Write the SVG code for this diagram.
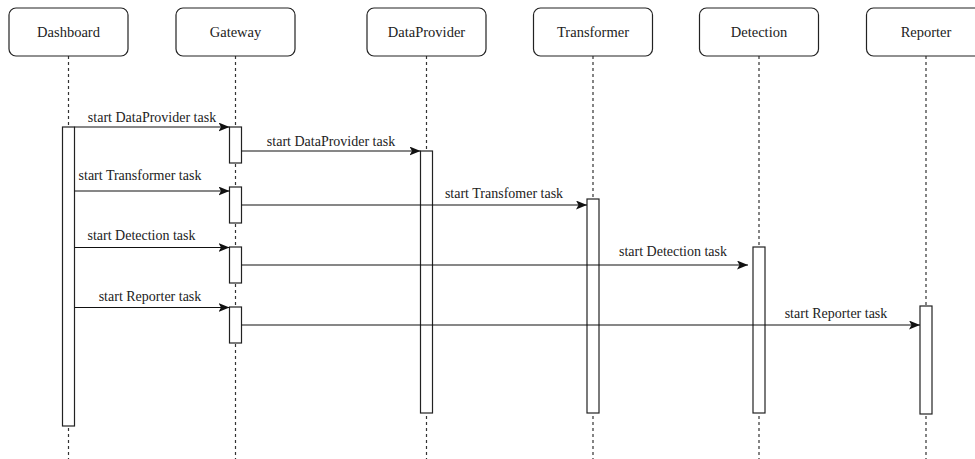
<svg xmlns="http://www.w3.org/2000/svg" width="975" height="459" viewBox="0 0 975 459">
<style>
.box{fill:#fff;stroke:#222;stroke-width:1.2}
.title{font-family:"Liberation Serif","Times New Roman",serif;font-size:14.5px;fill:#222;text-anchor:middle}
.life{stroke:#333;stroke-width:1.2;stroke-dasharray:3 3;fill:none}
.bar{fill:#fff;stroke:#222;stroke-width:1.2}
.msg{stroke:#111;stroke-width:1.2;fill:none;marker-end:url(#ah)}
.lbl{font-family:"Liberation Serif","Times New Roman",serif;font-size:14px;fill:#222;text-anchor:middle}
</style>
<defs>
<marker id="ah" markerUnits="userSpaceOnUse" markerWidth="12" markerHeight="10" refX="11" refY="4.5" orient="auto">
<path d="M0,0 L11,4.5 L0,9 L2.5,4.5 z" fill="#111"/>
</marker>
</defs>
<rect width="975" height="459" fill="#fff"/>
<g id="lifelines">
<line class="life" x1="68.5" y1="56" x2="68.5" y2="459"/>
<line class="life" x1="235.5" y1="56" x2="235.5" y2="459"/>
<line class="life" x1="426.5" y1="56" x2="426.5" y2="459"/>
<line class="life" x1="593" y1="56" x2="593" y2="459"/>
<line class="life" x1="759" y1="56" x2="759" y2="459"/>
<line class="life" x1="926" y1="56" x2="926" y2="459"/>
</g>
<g id="Dashboard">
<rect class="box" x="9" y="8" width="119" height="48" rx="7"/>
<text class="title" x="68.5" y="37">Dashboard</text>
<rect class="bar" x="62.5" y="127" width="12" height="299"/>
</g>
<g id="Gateway">
<rect class="box" x="176" y="8" width="119" height="48" rx="7"/>
<text class="title" x="235.5" y="37">Gateway</text>
<rect class="bar" x="229.5" y="127" width="12" height="36"/>
<rect class="bar" x="229.5" y="187" width="12" height="36"/>
<rect class="bar" x="229.5" y="247" width="12" height="36"/>
<rect class="bar" x="229.5" y="307" width="12" height="36"/>
</g>
<g id="DataProvider">
<rect class="box" x="367" y="8" width="119" height="48" rx="7"/>
<text class="title" x="426.5" y="37">DataProvider</text>
<rect class="bar" x="420.5" y="151" width="12" height="262"/>
</g>
<g id="Transformer">
<rect class="box" x="533.5" y="8" width="119" height="48" rx="7"/>
<text class="title" x="593" y="37">Transformer</text>
<rect class="bar" x="587" y="199" width="12" height="214"/>
</g>
<g id="Detection">
<rect class="box" x="699.5" y="8" width="119" height="48" rx="7"/>
<text class="title" x="759" y="37">Detection</text>
<rect class="bar" x="753" y="247" width="12" height="166"/>
</g>
<g id="Reporter">
<rect class="box" x="866.5" y="8" width="119" height="48" rx="7"/>
<text class="title" x="926" y="37">Reporter</text>
<rect class="bar" x="920" y="306" width="12" height="108"/>
</g>
<g id="connectors">
<line class="msg" x1="74.5" y1="127" x2="229.5" y2="127"/>
<line class="msg" x1="241.5" y1="151" x2="420.5" y2="151"/>
<line class="msg" x1="74.5" y1="191" x2="229.5" y2="191"/>
<line class="msg" x1="241.5" y1="205" x2="587" y2="205"/>
<line class="msg" x1="74.5" y1="247.5" x2="229.5" y2="247.5"/>
<line class="msg" x1="241.5" y1="265" x2="748" y2="265"/>
<line class="msg" x1="74.5" y1="307.5" x2="229.5" y2="307.5"/>
<line class="msg" x1="241.5" y1="325" x2="920" y2="325"/>
<text class="lbl" x="152" y="121.5">start DataProvider task</text>
<text class="lbl" x="331" y="146">start DataProvider task</text>
<text class="lbl" x="140" y="179.5">start Transformer task</text>
<text class="lbl" x="504" y="198">start Transfomer task</text>
<text class="lbl" x="141.5" y="239.5">start Detection task</text>
<text class="lbl" x="673" y="255.5">start Detection task</text>
<text class="lbl" x="150" y="300.5">start Reporter task</text>
<text class="lbl" x="836" y="317.5">start Reporter task</text>
</g>
</svg>
